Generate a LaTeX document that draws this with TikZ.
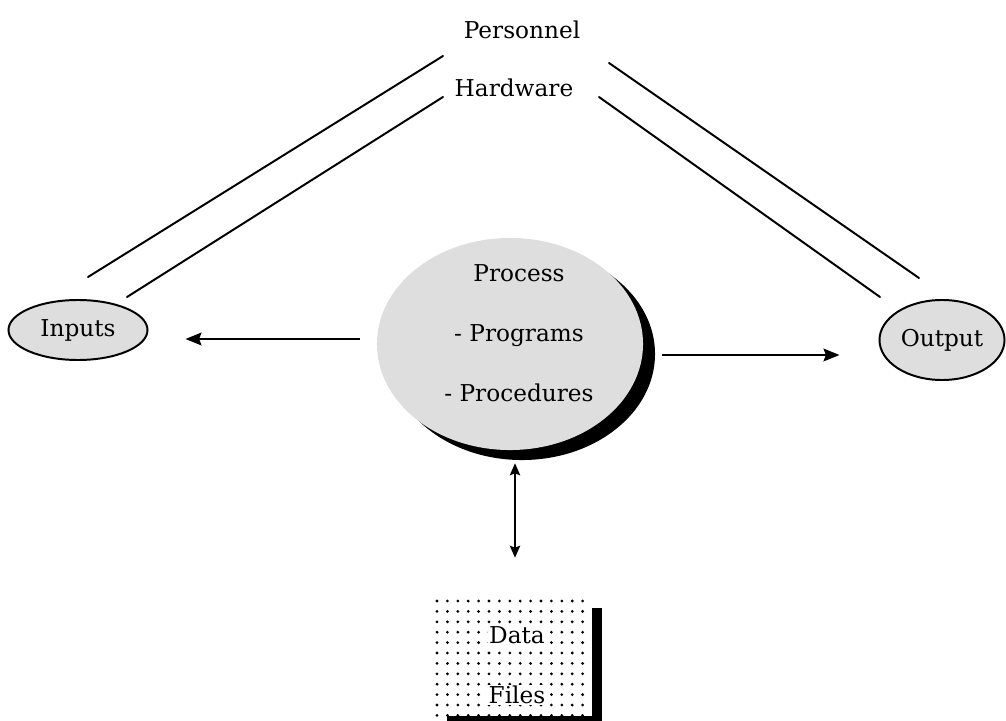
\documentclass[tikz,border=0pt]{standalone}
\usepackage{fontspec}
\setmainfont{DejaVu Serif}
\usetikzlibrary{arrows.meta,shapes.geometric,shadows,calc}

\tikzset{
	txt/.style={font=\fontsize{16.5}{20}\selectfont},
	blob/.style={ellipse, draw=black, line width=1.4pt, fill=black!13, inner sep=0pt, txt},
	flow/.style={line width=1.4pt, -{Stealth[length=4mm,width=3.2mm,inset=0.6mm]}},
	link/.style={line width=1.4pt, line cap=round}
}

\begin{document}
\begin{tikzpicture}[x=0.025cm, y=-0.025cm]
	\useasboundingbox (0,0) rectangle (1006,721);

	% resources on top
	\node[txt] (personnel) at (522,30) {Personnel};
	\node[txt] (hardware) at (514,88) {Hardware};

	% double lines down to inputs
	\draw[link] (443,56) -- (88,277);
	\draw[link] (443,97) -- (127,297);
	% double lines down to output
	\draw[link] (609,63) -- (919,278);
	\draw[link] (599,97) -- (880,297);

	% process with its shadow
	\node[ellipse, fill=black!13, minimum width=6.65cm, minimum height=5.3cm, inner sep=0pt,
		drop shadow={shadow xshift=0.3cm, shadow yshift=-0.25cm, fill=black, opacity=1}]
		(process) at (510,344) {};
	\node[txt, align=center, font=\fontsize{16.5}{42.5}\selectfont] (tasks) at (519,333)
		{Process\\- Programs\\- Procedures};

	% inputs and output
	\node[blob, minimum width=3.475cm, minimum height=1.5cm] (inputs) at (78,330) {Inputs};
	\node[blob, minimum width=3.125cm, minimum height=2cm] (output) at (942,340) {Output};

	\draw[flow] ($(process.west)+(-17,-5)$) -- ($(inputs.east)+(37,9)$);
	\draw[flow] ($(process.east)+(19,11)$) -- ($(output.west)+(-39,15)$);

	% data files store
	\node[minimum width=3.875cm, minimum height=3.025cm, inner sep=0pt] (store) at (514.5,660.5) {};
	\foreach \i in {0,...,14}
		\foreach \j in {0,...,11}
			\fill (437+\i*10.4,601+\j*10.4) circle[radius=1.1pt];
	\fill (592,608) rectangle (602,724);
	\fill (447,716) rectangle (602,724);
	\node[txt, fill=white, inner sep=1pt] (data) at (517,635) {Data};
	\node[txt, fill=white, inner sep=1pt] (files) at (517,695) {Files};

	\draw[line width=1.2pt, {Stealth[length=3mm,width=2.6mm,inset=0.5mm]}-{Stealth[length=3mm,width=2.6mm,inset=0.5mm]}]
		($(process.south)+(5,13)$) -- ($(store.north)+(0.5,-42)$);
\end{tikzpicture}
\end{document}
